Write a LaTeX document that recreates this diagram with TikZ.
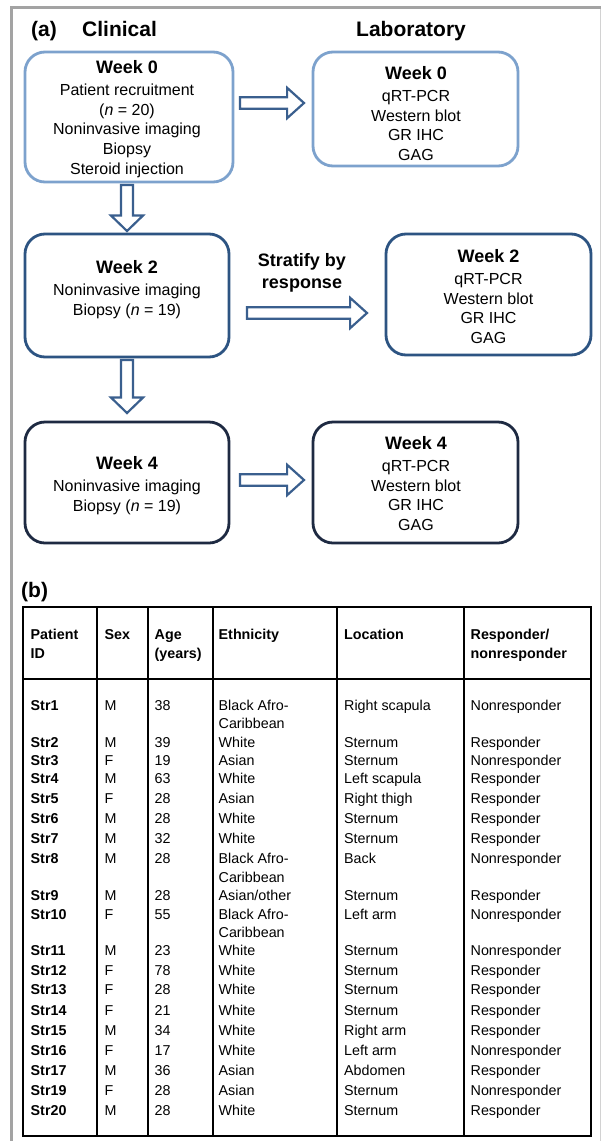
\documentclass[tikz,border=0pt]{standalone}
\usepackage{fontspec}
\setmainfont{Liberation Sans}
\usetikzlibrary{shapes.arrows}
\definecolor{frameg}{RGB}{163,163,163}
\definecolor{framel}{RGB}{210,210,210}
\definecolor{wkzero}{RGB}{125,162,205}
\definecolor{wktwo}{RGB}{45,84,130}
\definecolor{wkfour}{RGB}{30,42,66}
\definecolor{arrc}{RGB}{58,95,142}
\newcommand{\wk}[1]{{\fontsize{18}{19.7}\selectfont\bfseries #1}}
\newcommand{\trow}[7]{%
  \node[cell,font=\fontsize{14.3}{17}\selectfont\bfseries] (id#1) at (30.5,#2+5) {Str#1};
  \node[cell] (sx#1) at (104.5,#2+5) {#3};
  \node[cell] (ag#1) at (154.5,#2+5) {#4};
  \node[cell] (et#1) at (218.5,#2+5) {#5};
  \node[cell] (lo#1) at (344,#2+5) {#6};
  \node[cell] (re#1) at (470.5,#2+5) {#7};
}
\begin{document}
\begin{tikzpicture}[x=1pt,y=-1pt,
  box/.style={draw, rounded corners=20pt, line width=2.8pt, inner sep=0pt},
  btxt/.style={inner sep=0pt, align=center, font=\fontsize{16}{19.7}\selectfont},
  head/.style={inner sep=0pt, anchor=base west, font=\fontsize{21}{25}\selectfont\bfseries},
  barrow/.style={single arrow, draw=arrc, fill=white, line width=2.2pt,
    inner xsep=0pt, inner ysep=4.6pt, text height=0pt, text depth=0pt,
    single arrow head extend=9.5pt, anchor=tail, outer sep=0pt},
  cell/.style={inner sep=0pt, anchor=base west, font=\fontsize{14.3}{17}\selectfont},
  hcell/.style={cell, font=\fontsize{14.3}{17}\selectfont\bfseries},
  tline/.style={draw=black, line width=2.5pt}]
\useasboundingbox (0,0) rectangle (601,1141);
\fill[white] (0,0) rectangle (601,1141);
% outer frame
\draw[frameg, line width=2.7pt] (11.7,1150) -- (11.7,7.3) -- (610,7.3);
\draw[framel, line width=1.2pt] (600.2,8.7) -- (600.2,1150);
% headings
\node[head] (lbla) at (31,36.5) {(a)};
\node[head] (clin) at (82,36.5) {Clinical};
\node[head] (lab) at (356,36.5) {Laboratory};
\node[head] (lblb) at (21,597) {(b)};
% boxes
\node[box, draw=wkzero, minimum width=208pt, minimum height=130pt] (c0) at (129,117) {};
\node[box, draw=wkzero, minimum width=205pt, minimum height=114pt] (l0) at (415.5,109) {};
\node[box, draw=wktwo, minimum width=204pt, minimum height=123pt] (c2) at (127,295.5) {};
\node[box, draw=wktwo, minimum width=205pt, minimum height=121pt] (l2) at (488.5,294.5) {};
\node[box, draw=wkfour, minimum width=204pt, minimum height=121pt] (c4) at (127,482.5) {};
\node[box, draw=wkfour, minimum width=205pt, minimum height=121pt] (l4) at (415.5,482.5) {};
% box texts
\node[btxt, anchor=north] (c0t) at (127,60.3) {\wk{Week 0}\\[2.3pt]Patient recruitment\\(\textit{n} = 20)\\Noninvasive imaging\\Biopsy\\Steroid injection};
\node[btxt, anchor=north] (l0t) at (416,66.3) {\wk{Week 0}\\[2.3pt]qRT-PCR\\Western blot\\GR IHC\\GAG};
\node[btxt, anchor=north] (c2t) at (127,260.3) {\wk{Week 2}\\[2.3pt]Noninvasive imaging\\Biopsy (\textit{n} = 19)};
\node[btxt, anchor=north] (l2t) at (488.5,249.3) {\wk{Week 2}\\[2.3pt]qRT-PCR\\Western blot\\GR IHC\\GAG};
\node[btxt, anchor=north] (c4t) at (127,456.3) {\wk{Week 4}\\[2.3pt]Noninvasive imaging\\Biopsy (\textit{n} = 19)};
\node[btxt, anchor=north] (l4t) at (416,436.3) {\wk{Week 4}\\[2.3pt]qRT-PCR\\Western blot\\GR IHC\\GAG};
\node[btxt, anchor=north, font=\fontsize{18}{22}\selectfont\bfseries] (strat) at (302,253.3) {Stratify by\\response};
% block arrows
\node[barrow, minimum height=64pt, minimum width=28pt, single arrow tip angle=84] (a0) at (240,103) {};
\node[barrow, minimum height=120pt, minimum width=28pt, single arrow tip angle=84] (a2) at (247,313) {};
\node[barrow, minimum height=64pt, minimum width=28pt, single arrow tip angle=84] (a4) at (240,480) {};
\node[barrow, rotate=-90, inner ysep=4.9pt, single arrow head extend=10pt, minimum height=46pt, minimum width=30pt, single arrow tip angle=92] (d0) at (127,185) {};
\node[barrow, rotate=-90, inner ysep=4.9pt, single arrow head extend=10pt, minimum height=53pt, minimum width=30pt, single arrow tip angle=92] (d2) at (127,360) {};
% table
\draw[tline] (23,607) rectangle (591,1136);
\draw[tline] (23,679) -- (591,679);
\foreach \cx in {97,148,213,337,464} {\draw[tline] (\cx,607) -- (\cx,1136);}
\node[hcell] (hpa) at (30.5,639) {Patient};
\node[hcell] (hpb) at (30.5,658) {ID};
\node[hcell] (hsx) at (104.5,639) {Sex};
\node[hcell] (hag) at (154.5,639) {Age};
\node[hcell] (hagb) at (154.5,658) {(years)};
\node[hcell] (het) at (218.5,639) {Ethnicity};
\node[hcell] (hlo) at (344,639) {Location};
\node[hcell] (hre) at (470.5,639) {Responder/};
\node[hcell] (hreb) at (470.5,658) {nonresponder};
\trow{1}{705}{M}{38}{Black Afro-}{Right scapula}{Nonresponder}
\node[cell] (cb1) at (218.5,728) {Caribbean};
\trow{2}{742}{M}{39}{White}{Sternum}{Responder}
\trow{3}{760}{F}{19}{Asian}{Sternum}{Nonresponder}
\trow{4}{778.5}{M}{63}{White}{Left scapula}{Responder}
\trow{5}{798}{F}{28}{Asian}{Right thigh}{Responder}
\trow{6}{818}{M}{28}{White}{Sternum}{Responder}
\trow{7}{838}{M}{32}{White}{Sternum}{Responder}
\trow{8}{858}{M}{28}{Black Afro-}{Back}{Nonresponder}
\node[cell] (cb8) at (218.5,882) {Caribbean};
\trow{9}{895}{M}{28}{Asian/other}{Sternum}{Responder}
\trow{10}{914}{F}{55}{Black Afro-}{Left arm}{Nonresponder}
\node[cell] (cb10) at (218.5,937) {Caribbean};
\trow{11}{950}{M}{23}{White}{Sternum}{Nonresponder}
\trow{12}{970}{F}{78}{White}{Sternum}{Responder}
\trow{13}{989}{F}{28}{White}{Sternum}{Responder}
\trow{14}{1010}{F}{21}{White}{Sternum}{Responder}
\trow{15}{1030}{M}{34}{White}{Right arm}{Responder}
\trow{16}{1050}{F}{17}{White}{Left arm}{Nonresponder}
\trow{17}{1070}{M}{36}{Asian}{Abdomen}{Responder}
\trow{19}{1090}{F}{28}{Asian}{Sternum}{Nonresponder}
\trow{20}{1110}{M}{28}{White}{Sternum}{Responder}
\end{tikzpicture}
\end{document}
